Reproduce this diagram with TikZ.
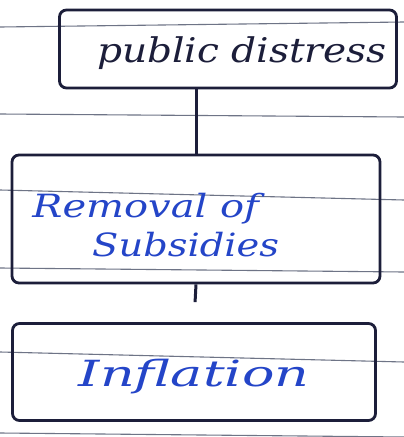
\documentclass[tikz,border=0pt]{standalone}
\usepackage{fontspec}
\setmainfont{DejaVu Serif}
\definecolor{ink}{HTML}{1C1E3A}
\definecolor{pen}{HTML}{2445C8}
\definecolor{rule}{HTML}{6E7486}
\begin{document}
\begin{tikzpicture}[x=1pt,y=-1pt,
  boxstyle/.style={draw=ink,line width=2.8pt,rounded corners=7pt,inner sep=0pt},
  link/.style={draw=ink,line width=3pt},
  ruling/.style={draw=rule,line width=1.1pt}]
\useasboundingbox[fill=white] (0,0) rectangle (404,437);
% ruled paper lines
\draw[ruling] (0,27) -- (404,22);
\draw[ruling] (0,114) -- (404,117);
\draw[ruling] (0,190) -- (404,200);
\draw[ruling] (0,268) -- (404,272);
\draw[ruling] (0,352) -- (404,362);
\draw[ruling] (0,433) -- (404,437);
% boxes
\node[boxstyle,minimum width=337pt,minimum height=78pt] (b1) at (228,49) {};
\node[boxstyle,minimum width=368pt,minimum height=128pt] (b2) at (196,219) {};
\node[boxstyle,minimum width=363pt,minimum height=97pt] (b3) at (194,372) {};
% texts
\node[text=ink,font=\itshape\fontsize{34}{36}\selectfont,anchor=base,xscale=1.15] (t1) at (242,62) {public distress};
\node[text=pen,font=\itshape\fontsize{32}{34}\selectfont,anchor=base west,xscale=1.25] (t2) at (28,217) {Removal of};
\node[text=pen,font=\itshape\fontsize{32}{34}\selectfont,anchor=base west,xscale=1.2] (t3) at (88,256) {Subsidies};
\node[text=pen,font=\itshape\fontsize{36}{38}\selectfont,anchor=base,xscale=1.5] (t4) at (194,386) {Inflation};
% connectors
\draw[link] (b2.north |- b1.south) -- (b2.north);
\draw[link,shorten <=20pt] (b3.north) -- (b2.south);
\end{tikzpicture}
\end{document}
